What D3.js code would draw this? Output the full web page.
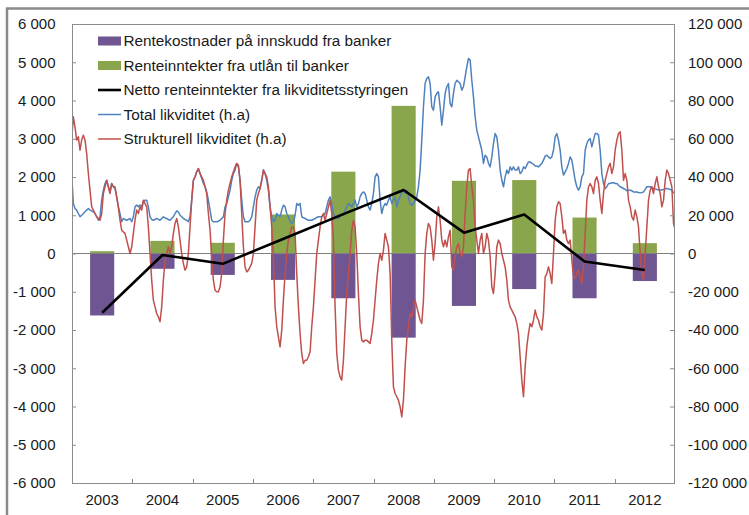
<!DOCTYPE html>
<html><head><meta charset="utf-8">
<script src="https://cdn.jsdelivr.net/npm/d3@7"></script>
<style>
body{margin:0;background:#fff}
svg{display:block}
text{font-family:"Liberation Sans",Arial,Helvetica,sans-serif;fill:#1a1a1a}
</style>
</head><body>
<svg id="chart" width="749" height="515"></svg>
<script>
// ---------- DATA ----------
const years = [2003,2004,2005,2006,2007,2008,2009,2010,2011,2012];
// Mill. kroner (venstre akse)
const rentekostnader = [-1620,-400,-560,-690,-1170,-2200,-1370,-930,-1170,-720];
const renteinntekter = [60,330,280,1020,2140,3860,1900,1920,940,270];
const netto = [-1550,-40,-270,380,1030,1660,545,1020,-210,-430];

const leftTickValues = [-6000,-5000,-4000,-3000,-2000,-1000,0,1000,2000,3000,4000,5000,6000];
const rightTickValues = [-120000,-100000,-80000,-60000,-40000,-20000,0,20000,40000,60000,80000,100000,120000];

// Likviditet (h.a), mrd. kroner, sampled about every 10.1 days from 30.12.2002
const seriesStart = "2002-12-30";
const stepDays = 10.1;
const totalLikviditet = [
41.8,26.1,23.5,22.7,20.9,19.2,20.0,20.9,21.8,22.7,23.5,22.7,22.3,21.8,20.9,19.2,17.4,19.2,27.9,33.1,36.6,38.3,34.9,32.2,36.6,34.9,34.0,29.6,24.4,20.9,16.6,18.3,17.8,17.4,17.8,18.3,16.6,19.2,24.4,25.3,24.4,25.3,24.4,27.0,27.9,27.9,24.4,19.2,17.8,17.4,17.8,18.3,17.8,17.4,18.3,19.2,18.6,18.3,17.8,17.4,18.3,19.2,20.9,22.3,21.8,20.0,19.2,18.3,17.8,17.4,16.6,19.2,27.9,38.3,40.1,42.7,44.4,41.8,39.2,36.6,34.9,32.2,27.9,22.7,17.4,16.6,16.6,16.6,16.9,17.4,18.3,19.2,
24.4,26.1,29.6,33.1,38.3,41.8,43.6,47.1,45.3,38.3,27.9,19.2,16.6,16.6,16.6,17.4,19.2,24.4,29.6,33.1,34.9,34.0,38.3,43.6,41.8,38.3,33.1,24.4,19.2,16.6,17.4,20.9,20.0,19.2,22.7,25.3,24.4,20.9,19.2,16.6,15.7,16.6,20.0,26.1,25.3,26.1,19.2,18.7,18.3,17.8,17.4,17.4,17.4,17.8,18.3,18.8,19.2,19.2,19.2,20.0,20.9,24.4,27.9,29.6,26.1,20.9,19.2,18.7,18.3,19.2,20.9,20.0,22.7,24.4,26.1,25.3,24.4,26.1,27.9,24.4,26.1,29.6,31.4,32.2,31.4,27.9,24.4,22.7,26.1,31.4,40.1,41.8,40.1,
27.9,20.9,24.4,26.1,25.3,27.9,29.6,26.1,27.9,29.6,24.4,27.9,29.6,32.2,33.1,31.4,33.1,29.6,26.1,25.3,26.1,27.9,29.6,34.9,43.6,59.3,76.7,88.9,91.5,92.4,88.9,76.7,74.9,81.9,83.7,84.5,76.7,67.1,74.9,83.7,87.2,88.9,78.4,76.7,83.7,88.9,90.6,89.8,88.9,85.4,87.2,92.4,97.6,102.0,101.1,90.6,81.9,71.5,64.5,61.0,57.5,54.0,47.1,51.4,50.5,47.1,45.3,50.5,57.5,62.7,61.0,54.0,43.6,38.3,34.9,40.1,43.6,41.8,45.3,43.6,45.3,43.6,43.6,45.3,41.8,42.7,45.3,44.4,46.2,47.9,
47.9,47.1,46.7,45.7,45.7,45.3,46.2,47.1,48.8,50.9,51.4,50.5,49.7,50.5,54.0,61.0,62.7,59.3,54.0,45.3,41.0,42.7,44.4,47.1,50.5,48.8,43.6,38.3,34.9,33.1,34.9,40.1,41.8,54.0,57.5,59.3,60.1,55.8,59.3,62.7,62.7,61.9,54.0,41.8,36.6,34.0,34.9,36.6,36.6,37.0,37.0,36.6,36.6,35.7,34.9,34.5,34.0,33.5,32.8,33.1,33.1,32.8,32.2,32.2,32.2,31.9,31.7,31.9,32.2,33.5,34.9,34.9,34.9,34.5,34.0,33.8,33.5,33.3,33.1,33.3,33.5,33.8,34.0,33.8,33.5,33.1,31.7,31.4
];
const strukturellLikviditet = [
59.3,71.5,66.2,59.3,61.0,54.0,59.3,61.9,59.3,52.3,41.8,33.1,24.4,22.7,20.9,19.2,18.3,17.4,20.9,31.4,34.9,38.3,34.9,31.4,36.6,34.9,34.9,29.6,24.4,17.4,12.2,11.3,10.5,7.0,3.5,0,3.5,10.5,17.4,22.7,20.9,24.4,22.7,27.9,26.1,24.4,13.9,0,-13.9,-24.4,-27.9,-31.4,-33.1,-35.7,-27.9,-13.9,-3.5,0,3.5,0,3.5,10.5,15.7,18.3,13.9,7.0,0,-5.2,-8.7,-7.0,0,13.9,27.9,38.3,40.1,42.7,44.4,41.8,40.1,38.3,34.9,31.4,20.9,12.2,-1.7,-13.9,-19.2,-20.0,-20.0,-17.4,-10.5,7.0,
20.9,27.9,33.1,36.6,40.1,42.7,45.3,47.1,46.2,38.3,20.9,3.5,-7.0,-9.6,-8.7,-7.0,-5.2,0,13.9,27.9,31.4,34.0,38.3,43.6,41.8,40.1,34.9,24.4,13.9,-1.7,-27.9,-38.3,-43.6,-48.8,-40.1,-24.4,-10.5,0,7.0,10.5,13.9,13.9,10.5,-10.5,-27.9,-41.8,-52.3,-57.5,-55.8,-55.8,-54.0,-51.4,-38.3,-27.9,-13.9,0,7.0,13.9,19.2,20.9,17.4,20.9,24.4,27.9,20.9,7.0,-27.9,-52.3,-61.0,-64.5,-66.2,-55.8,-38.3,-20.9,-10.5,0,12.2,17.4,13.9,0,-20.9,-38.3,-45.3,-46.2,-45.3,-45.3,-46.2,-47.1,-41.8,-34.9,-24.4,-13.9,-5.2,
0,-3.5,1.7,10.5,7.0,3.5,-10.5,-45.3,-69.7,-73.2,-74.9,-76.7,-80.1,-85.4,-76.7,-59.3,-45.3,-38.3,-31.4,-33.1,-27.9,-24.4,-27.9,-31.4,-34.9,-36.6,-24.4,0,10.5,15.7,13.9,7.0,-3.5,5.2,19.2,24.4,17.4,7.0,3.5,7.0,3.5,8.7,12.2,-7.0,-8.7,-1.7,3.5,5.2,0,-1.7,3.5,20.9,34.9,43.6,44.4,34.9,27.9,13.9,7.0,0,7.0,10.5,0,3.5,10.5,7.0,-1.7,-17.4,-20.9,-10.5,3.5,7.0,5.2,0,-3.5,-7.0,-13.9,-24.4,-27.9,-29.6,-31.4,-33.1,-36.6,-41.8,-54.0,-66.2,-74.9,-59.3,-48.8,-41.8,
-36.6,-38.3,-34.9,-29.6,-33.1,-34.9,-38.3,-40.1,-31.4,-12.2,-10.5,-7.0,-10.5,-15.7,0,17.4,24.4,27.0,26.1,19.2,10.5,12.2,7.0,5.2,7.0,-3.5,-12.2,-13.1,-10.5,-8.7,-12.2,-15.7,-7.0,10.5,27.9,34.9,36.6,34.9,31.4,38.3,40.1,36.6,27.9,20.9,31.4,38.3,41.8,45.3,47.1,41.8,45.3,54.0,59.3,62.7,63.6,54.0,38.3,41.8,38.3,27.9,24.4,19.2,17.4,22.7,19.2,13.9,0,-10.5,-13.9,0,13.9,27.9,33.1,34.9,31.4,36.6,40.1,34.9,31.4,24.4,27.9,38.3,43.6,41.8,38.3,34.9,15.7,12.2
];

const legendItems = [
  {label:"Rentekostnader på innskudd fra banker", type:"bar", color:"#6f5592"},
  {label:"Renteinntekter fra utlån til banker", type:"bar", color:"#8aa64c"},
  {label:"Netto renteinntekter fra likviditetsstyringen", type:"line", color:"#000000", w:2.6},
  {label:"Total likviditet (h.a)", type:"line", color:"#4f81bd", w:1.5},
  {label:"Strukturell likviditet (h.a)", type:"line", color:"#c0504d", w:1.5}
];

// ---------- CHART ----------
const svg = d3.select("#chart");
const L = 72, R = 675, T = 24, B = 483;
const axisGrey = "#8c8c8c";

const fmt = d3.formatLocale({decimal:",", thousands:" ", grouping:[3], currency:["",""], minus:"-"}).format(",d");

const x = d3.scaleBand().domain(years).range([L, R]).paddingInner(0.6).paddingOuter(0.3);
const xt = d3.scaleTime().domain([new Date(2003,0,1), new Date(2013,0,1)]).range([L, R]);
const yL = d3.scaleLinear().domain([-6000, 6000]).range([B, T]);
const yR = d3.scaleLinear().domain([-120000, 120000]).range([B, T]);

// outer frame
svg.append("rect").attr("x",7).attr("y",8.5).attr("width",800).attr("height",600)
  .attr("fill","none").attr("stroke","#8a8a8a").attr("stroke-width",2.5);

svg.append("defs").append("clipPath").attr("id","plotclip")
  .append("rect").attr("x",L).attr("y",T).attr("width",R-L).attr("height",B-T);

// bars
const bars = svg.append("g");
bars.selectAll("rect.neg").data(years).join("rect")
  .attr("x", d => x(d)).attr("width", x.bandwidth())
  .attr("y", (d,i) => yL(0)).attr("height", (d,i) => yL(rentekostnader[i]) - yL(0))
  .attr("fill", legendItems[0].color);
bars.selectAll("rect.pos").data(years).join("rect")
  .attr("x", d => x(d)).attr("width", x.bandwidth())
  .attr("y", (d,i) => yL(renteinntekter[i])).attr("height", (d,i) => yL(0) - yL(renteinntekter[i]))
  .attr("fill", legendItems[1].color);

// zero line
svg.append("line").attr("x1",L).attr("x2",R).attr("y1",yL(0)).attr("y2",yL(0))
  .attr("stroke","#808080").attr("stroke-width",1);

// liquidity lines
const t0 = new Date(seriesStart + "T00:00:00");
const dateAt = i => new Date(t0.getTime() + i*stepDays*86400000);
const lineR = d3.line().x((d,i) => xt(dateAt(i))).y(d => yR(d*1000));
const lines = svg.append("g").attr("clip-path","url(#plotclip)");
lines.append("path").datum(totalLikviditet).attr("d", lineR)
  .attr("fill","none").attr("stroke",legendItems[3].color).attr("stroke-width",1.5).attr("stroke-linejoin","round");
lines.append("path").datum(strukturellLikviditet).attr("d", lineR)
  .attr("fill","none").attr("stroke",legendItems[4].color).attr("stroke-width",1.5).attr("stroke-linejoin","round");

// net line
const lineN = d3.line().x((d,i) => x(years[i]) + x.bandwidth()/2).y(d => yL(d));
svg.append("path").datum(netto).attr("d", lineN)
  .attr("fill","none").attr("stroke","#000").attr("stroke-width",2.6).attr("stroke-linejoin","round");

// plot frame
svg.append("rect").attr("x",L+0.5).attr("y",T+0.5).attr("width",R-L-1).attr("height",B-T)
  .attr("fill","none").attr("stroke",axisGrey).attr("stroke-width",1);

// axes
const styleAxis = g => {
  g.select(".domain").remove();
  g.selectAll(".tick line").attr("stroke", axisGrey);
  g.selectAll(".tick text").attr("font-size", 15).attr("fill","#1a1a1a")
    .attr("font-family",'"Liberation Sans",Arial,sans-serif');
};
svg.append("g").attr("transform",`translate(${L},0)`)
  .call(d3.axisLeft(yL).tickValues(leftTickValues).tickSize(-4).tickPadding(16.5).tickFormat(fmt))
  .call(styleAxis);
svg.append("g").attr("transform",`translate(${R},0)`)
  .call(d3.axisRight(yR).tickValues(rightTickValues).tickSize(-5).tickPadding(13).tickFormat(fmt))
  .call(styleAxis);
svg.append("g").attr("transform",`translate(0,${B})`)
  .call(d3.axisBottom(x).tickSize(0).tickPadding(11).tickFormat(d => String(d)))
  .call(styleAxis);

// category separator ticks
const gap = (x.step() - x.bandwidth())/2;
svg.append("g").selectAll("line").data(years.slice(1)).join("line")
  .attr("x1", d => Math.round(x(d) - gap) + 0.5).attr("x2", d => Math.round(x(d) - gap) + 0.5)
  .attr("y1", B - 4).attr("y2", B).attr("stroke", axisGrey);

// legend
const lg = svg.append("g");
const rowY = i => 41 + i*24.5;
legendItems.forEach((it,i) => {
  const cy = rowY(i);
  if (it.type === "bar") {
    lg.append("rect").attr("x",98).attr("y",cy-4.5).attr("width",23).attr("height",9).attr("fill",it.color);
  } else {
    lg.append("line").attr("x1",98).attr("x2",121).attr("y1",cy).attr("y2",cy)
      .attr("stroke",it.color).attr("stroke-width",it.w);
  }
  lg.append("text").attr("x",123.5).attr("y",cy+5.3).attr("font-size",15.3).text(it.label);
});
</script>
</body></html>
